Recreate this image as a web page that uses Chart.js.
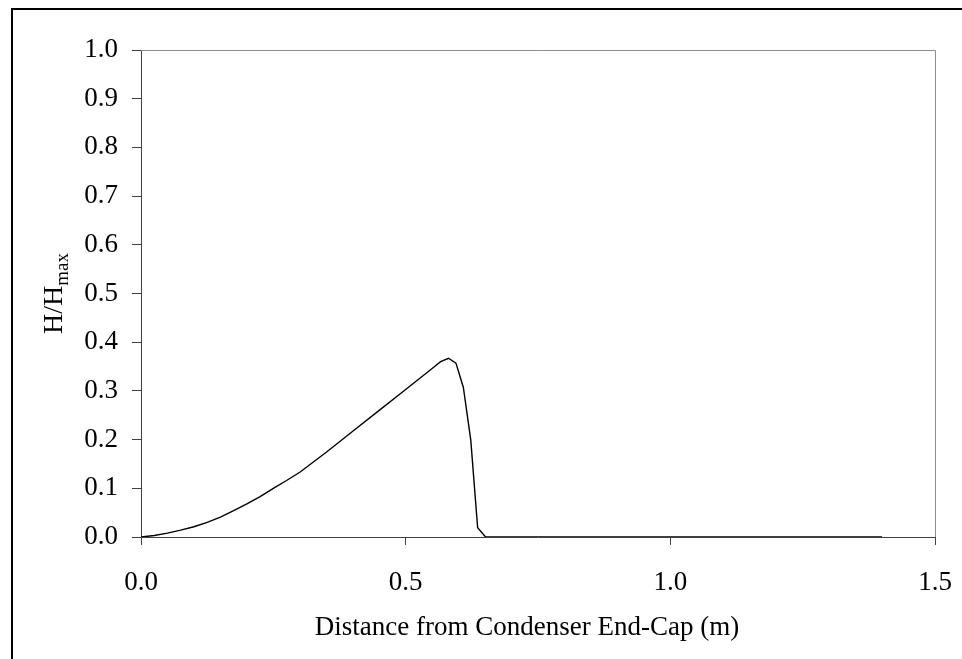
<!DOCTYPE html>
<html>
<head>
<meta charset="utf-8">
<script src="https://cdn.jsdelivr.net/npm/chart.js@4.4.1/dist/chart.umd.min.js"></script>
<style>
  html, body { margin: 0; padding: 0; background: #fff; }
  canvas { display: block; }
</style>
</head>
<body>
<canvas id="chart" width="962" height="659"></canvas>
<script>
// distance from condenser end-cap (m) and normalised H
var distance = [0, 0.025, 0.05, 0.075, 0.1, 0.125, 0.15, 0.175, 0.2, 0.225, 0.25, 0.275, 0.3,
                0.35, 0.4, 0.45, 0.5, 0.55,
                0.566, 0.581, 0.595, 0.609, 0.623, 0.636, 0.651,
                0.7, 0.8, 0.9, 1.0, 1.1, 1.2, 1.3, 1.4];
var ratio    = [0, 0.003, 0.008, 0.014, 0.021, 0.03, 0.041, 0.054, 0.068, 0.083, 0.1, 0.116, 0.133,
                0.174, 0.217, 0.26, 0.303, 0.346,
                0.360, 0.367, 0.357, 0.307, 0.199, 0.019, 0,
                0, 0, 0, 0, 0, 0, 0, 0];

var xTicks = [0, 0.5, 1.0, 1.5];
var yTicks = [0, 0.1, 0.2, 0.3, 0.4, 0.5, 0.6, 0.7, 0.8, 0.9, 1.0];

var xTitle = 'Distance from Condenser End-Cap (m)';
var yTitle = 'H/H';
var yTitleSub = 'max';

var serif = '"Liberation Serif", "Times New Roman", serif';

var points = [];
for (var i = 0; i < distance.length; i++) {
	points.push({x: distance[i], y: ratio[i]});
}

// frame, plot-area border and axis titles
var decor = {
	id: 'decor',
	beforeDraw: function(chart) {
		var ctx = chart.ctx;
		ctx.save();
		ctx.strokeStyle = '#000';
		ctx.lineWidth = 2;
		ctx.strokeRect(12, 9, 1000, 700);
		ctx.restore();
	},
	afterDraw: function(chart) {
		var ctx = chart.ctx;
		var a = chart.chartArea;
		ctx.save();
		ctx.strokeStyle = '#8c8c8c';
		ctx.lineWidth = 1;
		ctx.beginPath();
		ctx.moveTo(a.left, a.top + 0.5);
		ctx.lineTo(a.right + 0.5, a.top + 0.5);
		ctx.lineTo(a.right + 0.5, a.bottom);
		ctx.stroke();

		ctx.fillStyle = '#000';
		ctx.font = '27px ' + serif;
		ctx.textAlign = 'center';
		ctx.textBaseline = 'alphabetic';
		ctx.fillText(xTitle, 527, 635);

		// rotated y title with subscript
		var big = '28px ' + serif, small = '19px ' + serif;
		ctx.font = big;
		var w1 = ctx.measureText(yTitle).width;
		ctx.font = small;
		var w2 = ctx.measureText(yTitleSub).width;
		var total = w1 + w2;
		ctx.translate(62, (a.top + a.bottom) / 2);
		ctx.rotate(-Math.PI / 2);
		ctx.textAlign = 'left';
		ctx.font = big;
		ctx.fillText(yTitle, -total / 2, 0);
		ctx.font = small;
		ctx.fillText(yTitleSub, -total / 2 + w1, 6);
		ctx.restore();
	}
};

var ctx = document.getElementById('chart').getContext('2d');
var myChart = new Chart(ctx, {
	type: 'scatter',
	data: {
		datasets: [{
			data: points,
			showLine: true,
			borderColor: '#000',
			borderWidth: 1.4,
			pointRadius: 0,
			tension: 0
		}]
	},
	plugins: [decor],
	options: {
		responsive: false,
		animation: false,
		layout: { padding: { left: 0, top: 50, right: 27, bottom: 0 } },
		plugins: {
			legend: { display: false },
			tooltip: { enabled: false }
		},
		scales: {
			x: {
				type: 'linear',
				min: 0,
				max: 1.5,
				afterBuildTicks: function(scale) {
					scale.ticks = xTicks.map(function(v) { return {value: v}; });
				},
				afterFit: function(scale) {
					scale.height = 122;
					scale.paddingLeft = 0;
					scale.paddingRight = 0;
				},
				grid: { drawOnChartArea: false, drawTicks: true, tickLength: 8, color: '#404040' },
				border: { color: '#404040', width: 1 },
				ticks: {
					color: '#000',
					padding: 22,
					maxRotation: 0,
					font: { family: serif, size: 27 },
					callback: function(v) { return Number(v).toFixed(1); }
				}
			},
			y: {
				type: 'linear',
				min: 0,
				max: 1,
				afterBuildTicks: function(scale) {
					scale.ticks = yTicks.map(function(v) { return {value: v}; });
				},
				afterFit: function(scale) {
					scale.width = 141;
					scale.paddingTop = 0;
					scale.paddingBottom = 0;
				},
				grid: { drawOnChartArea: false, drawTicks: true, tickLength: 9, color: '#404040' },
				border: { color: '#404040', width: 1 },
				ticks: {
					color: '#000',
					padding: 14,
					font: { family: serif, size: 27 },
					callback: function(v) { return Number(v).toFixed(1); }
				}
			}
		}
	}
});
</script>
</body>
</html>
